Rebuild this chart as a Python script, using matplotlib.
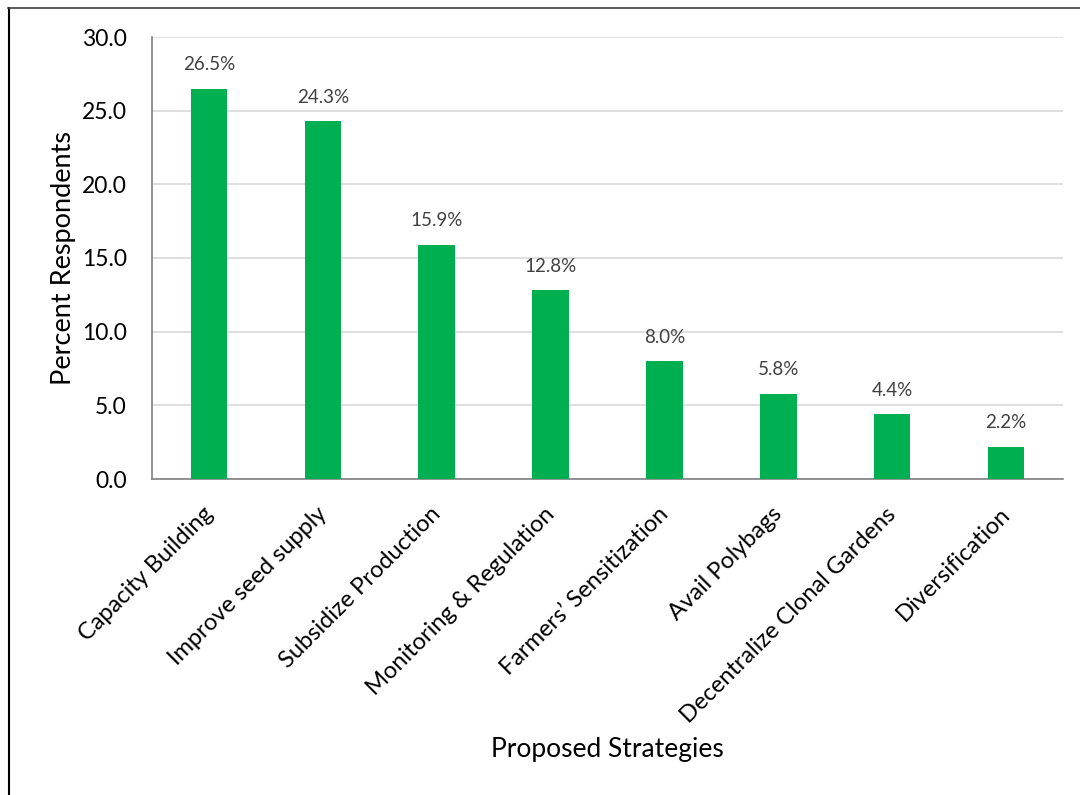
import matplotlib.pyplot as plt
from matplotlib.lines import Line2D
from matplotlib.transforms import ScaledTranslation
import numpy as np

strategies = ['Capacity Building', 'Improve seed supply', 'Subsidize Production',
              'Monitoring & Regulation', 'Farmers\u2019 Sensitization', 'Avail Polybags',
              'Decentralize Clonal Gardens', 'Diversification']
percent = [26.5, 24.3, 15.9, 12.8, 8.0, 5.8, 4.4, 2.2]
yticks = [0.0, 5.0, 10.0, 15.0, 20.0, 25.0, 30.0]

plt.rcParams['font.family'] = ['Lato', 'DejaVu Sans']

fig = plt.figure(figsize=(10.8, 7.95), dpi=100)
ax = fig.add_axes([152/1080, 1 - 479/795, (1063 - 152)/1080, (479 - 37)/795])

x = np.arange(len(strategies))
bars = ax.bar(x, percent, width=0.32, color='#00B050', zorder=3)

for xi, v in zip(x, percent):
    ax.annotate(f'{v:.1f}%', (xi, v), xytext=(0, 11), textcoords='offset points',
                ha='center', va='bottom', fontsize=13.5, color='#404040')

ax.set_xlim(-0.5, len(strategies) - 0.5)
ax.set_ylim(0, 30)
ax.set_yticks(yticks)
ax.set_yticklabels([f'{t:.1f}' for t in yticks], fontsize=16.5)
ax.set_xticks(x)
ax.set_xticklabels(strategies, rotation=45, ha='right', rotation_mode='anchor', fontsize=17)
ax.tick_params(axis='x', length=0, pad=14)
ax.tick_params(axis='y', length=0, pad=18)

# nudge rotated category labels down-left
shift = ScaledTranslation(-7/100, -5/100, fig.dpi_scale_trans)
for lbl in ax.get_xticklabels():
    lbl.set_transform(lbl.get_transform() + shift)

ax.grid(axis='y', color='#D9D9D9', linewidth=1.2, zorder=0)
for side in ['top', 'right']:
    ax.spines[side].set_visible(False)
for side in ['left', 'bottom']:
    ax.spines[side].set_color('#808080')
    ax.spines[side].set_linewidth(1.2)

ax.set_ylabel('Percent Respondents', fontsize=19.5, labelpad=4)
fig.text(607/1080, 1 - 750/795, 'Proposed Strategies', ha='center', va='center', fontsize=19)

# frame edges on left and top
fig.add_artist(Line2D([9/1080, 9/1080], [0, 1 - 8/795], color='black', linewidth=1.5))
fig.add_artist(Line2D([8/1080, 1], [1 - 8/795, 1 - 8/795], color='#404040', linewidth=1.2))

fig.savefig('out.png', dpi=100, facecolor='white')
